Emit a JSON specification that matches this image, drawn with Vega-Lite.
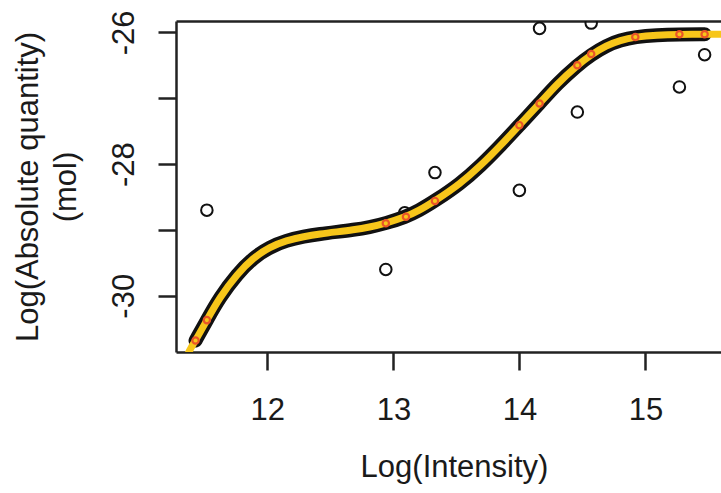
{
  "$schema": "https://vega.github.io/schema/vega-lite/v6.json",
  "width": 545,
  "height": 331,
  "autosize": {"type": "none"},
  "padding": {"left": 176, "top": 21, "right": 0, "bottom": 141},
  "background": "white",
  "config": {"view": {"stroke": null}, "font": "Liberation Sans"},
  "datasets": {
    "obs": [
      {"x": 11.52, "y": -28.70},
      {"x": 12.94, "y": -29.60},
      {"x": 13.09, "y": -28.74},
      {"x": 13.33, "y": -28.13},
      {"x": 14.00, "y": -28.40},
      {"x": 14.16, "y": -25.94},
      {"x": 14.46, "y": -27.21},
      {"x": 14.57, "y": -25.86},
      {"x": 15.27, "y": -26.83},
      {"x": 15.47, "y": -26.34}
    ],
    "fit": [
      {"x": 11.43, "y": -30.68},
      {"x": 11.52, "y": -30.37},
      {"x": 12.94, "y": -28.90},
      {"x": 13.10, "y": -28.80},
      {"x": 13.33, "y": -28.56},
      {"x": 14.00, "y": -27.41},
      {"x": 14.16, "y": -27.08},
      {"x": 14.46, "y": -26.50},
      {"x": 14.57, "y": -26.33},
      {"x": 14.92, "y": -26.07},
      {"x": 15.27, "y": -26.03},
      {"x": 15.47, "y": -26.03}
    ],
    "curve": [
      {"x": 11.36, "y": -30.92},
      {"x": 11.39, "y": -30.80},
      {"x": 11.43, "y": -30.68},
      {"x": 11.52, "y": -30.37},
      {"x": 11.62, "y": -30.03},
      {"x": 11.76, "y": -29.67},
      {"x": 11.89, "y": -29.42},
      {"x": 12.02, "y": -29.26},
      {"x": 12.15, "y": -29.16},
      {"x": 12.29, "y": -29.10},
      {"x": 12.42, "y": -29.06},
      {"x": 12.55, "y": -29.03},
      {"x": 12.68, "y": -29.00},
      {"x": 12.81, "y": -28.96},
      {"x": 12.94, "y": -28.90},
      {"x": 13.10, "y": -28.80},
      {"x": 13.20, "y": -28.71},
      {"x": 13.33, "y": -28.56},
      {"x": 13.53, "y": -28.30},
      {"x": 13.69, "y": -28.03},
      {"x": 13.85, "y": -27.72},
      {"x": 14.00, "y": -27.41},
      {"x": 14.16, "y": -27.08},
      {"x": 14.30, "y": -26.78},
      {"x": 14.46, "y": -26.50},
      {"x": 14.57, "y": -26.34},
      {"x": 14.69, "y": -26.20},
      {"x": 14.80, "y": -26.12},
      {"x": 14.92, "y": -26.07},
      {"x": 15.09, "y": -26.04},
      {"x": 15.27, "y": -26.03},
      {"x": 15.47, "y": -26.03},
      {"x": 15.65, "y": -26.03}
    ]
  },
  "layer": [
    {
      "data": {"name": "obs"},
      "mark": {"type": "point", "shape": "circle", "filled": false, "stroke": "#111111", "strokeWidth": 2, "size": 133, "opacity": 1, "clip": true},
      "encoding": {
        "x": {
          "field": "x", "type": "quantitative",
          "scale": {"domain": [11.275, 15.6], "nice": false, "zero": false},
          "axis": {
            "values": [12, 13, 14, 15],
            "labelFontSize": 31, "labelColor": "#1a1a1a", "labelPadding": 49, "labelBaseline": "alphabetic", "labelFlush": false,
            "tickSize": 18, "tickWidth": 2.5, "tickColor": "#222222",
            "domainColor": "#222222", "domainWidth": 2.5, "grid": false,
            "title": "Log(Intensity)", "titleFontSize": 31, "titleFontWeight": "normal", "titleColor": "#1a1a1a",
            "titleX": 278, "titleY": 124, "titleAlign": "center", "titleBaseline": "alphabetic"
          }
        },
        "y": {
          "field": "y", "type": "quantitative",
          "scale": {"domain": [-30.854, -25.828], "nice": false, "zero": false},
          "axis": {
            "values": [-30, -29, -28, -27, -26],
            "labelExpr": "datum.value % 2 == 0 ? '' + datum.value : ''",
            "labelAngle": -90, "labelAlign": "center", "labelBaseline": "alphabetic",
            "labelFontSize": 31, "labelColor": "#1a1a1a", "labelPadding": 25, "labelFlush": false, "labelOverlap": false,
            "tickSize": 18, "tickWidth": 2.5, "tickColor": "#222222",
            "domainColor": "#222222", "domainWidth": 2.5, "grid": false,
            "title": ["Log(Absolute quantity)", "(mol)"],
            "titleFontSize": 31, "titleFontWeight": "normal", "titleColor": "#1a1a1a",
            "titleAngle": -90, "titleAlign": "center", "titleBaseline": "alphabetic", "titleLineHeight": 38,
            "titleX": -139, "titleY": 165.5
          }
        }
      }
    },
    {
      "data": {"name": "curve"},
      "transform": [{"filter": "datum.x >= 11.43 && datum.x <= 15.47"}],
      "mark": {"type": "line", "color": "#111111", "strokeWidth": 14, "interpolate": "basis", "strokeCap": "round", "clip": true},
      "encoding": {
        "x": {"field": "x", "type": "quantitative", "axis": null},
        "y": {"field": "y", "type": "quantitative"}
      }
    },
    {
      "data": {"name": "curve"},
      "mark": {"type": "line", "color": "#f7c61a", "strokeWidth": 7, "interpolate": "basis", "clip": true},
      "encoding": {
        "x": {"field": "x", "type": "quantitative", "axis": null},
        "y": {"field": "y", "type": "quantitative"}
      }
    },
    {
      "data": {"name": "fit"},
      "mark": {"type": "point", "shape": "circle", "filled": false, "stroke": "#ea5528", "strokeWidth": 2.2, "size": 40, "opacity": 1},
      "encoding": {
        "x": {
          "field": "x", "type": "quantitative",
          "axis": {"orient": "top", "labels": false, "ticks": false, "title": null, "domainColor": "#222222", "domainWidth": 2.5, "grid": false}
        },
        "y": {"field": "y", "type": "quantitative"}
      }
    }
  ],
  "resolve": {"axis": {"x": "independent"}}
}
